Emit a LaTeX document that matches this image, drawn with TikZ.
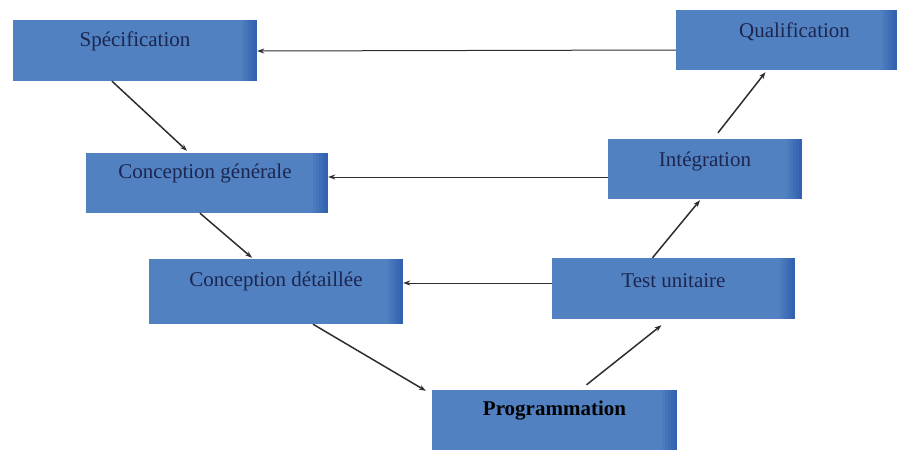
\documentclass[tikz,border=0pt]{standalone}
\usepackage{fontspec}
\setmainfont{Liberation Serif}
\usetikzlibrary{arrows.meta}
\definecolor{boxblue}{RGB}{82,129,193}
\definecolor{boxdark}{RGB}{50,98,176}
\definecolor{inkblue}{RGB}{28,38,80}
\definecolor{linegray}{RGB}{45,45,50}
\tikzset{
  stagebox/.style={rectangle, draw=none, fill=boxblue, inner sep=0pt,
    minimum height=60pt,
    % right edge darkens in small steps
    path picture={
      \foreach \k/\op in {1/0.2,2/0.4,3/0.6,4/0.8,5/1}{
        \fill[boxdark, opacity=\op]
          ([xshift={-3pt*(6-\k)}]path picture bounding box.north east)
          rectangle ([xshift={-3pt*(5-\k)}]path picture bounding box.south east);
      }}},
  stagelabel/.style={font=\fontsize{21}{24}\selectfont, text=inkblue, inner sep=0pt},
  flow/.style={draw=linegray, line width=1pt, -{Stealth[length=7pt,width=5pt]}},
  descend/.style={flow, line width=1.5pt}
}
\begin{document}
\begin{tikzpicture}[x=1pt, y=-1pt]
  \useasboundingbox (0,0) rectangle (911,455);

  % stages of the V cycle
  \node[stagebox, minimum width=244pt, minimum height=61pt] (spec) at (135,50.5) {};
  \node[stagebox, minimum width=221pt] (qual) at (786.5,40) {};
  \node[stagebox, minimum width=242pt] (cg)   at (207,183) {};
  \node[stagebox, minimum width=194pt] (int)  at (705,169) {};
  \node[stagebox, minimum width=254pt, minimum height=65pt] (cd) at (276,291.5) {};
  \node[stagebox, minimum width=243pt, minimum height=61pt] (tu) at (673.5,288.5) {};
  \node[stagebox, minimum width=245pt] (prog) at (554.5,420) {};

  % labels, set in the upper part of each box
  \node[stagelabel] (specT) at ([yshift=9pt]spec.center) {Spécification};
  \node[stagelabel] (qualT) at ([xshift=8pt,yshift=8pt]qual.center) {Qualification};
  \node[stagelabel] (cgT)   at ([xshift=-2pt,yshift=10pt]cg.center) {Conception générale};
  \node[stagelabel] (intT)  at ([yshift=8pt]int.center) {Intégration};
  \node[stagelabel] (cdT)   at ([yshift=10pt]cd.center) {Conception détaillée};
  \node[stagelabel] (tuT)   at ([yshift=8pt]tu.center) {Test unitaire};
  \node[stagelabel, text=black, font=\fontsize{21}{24}\selectfont\bfseries] (progT)
    at ([yshift=9pt]prog.center) {Programmation};

  % descending branch
  \draw[descend] ([xshift=-23pt]spec.south) -- ([xshift=-20pt,yshift=2pt]cg.north);
  \draw[descend] ([xshift=-7pt]cg.south) -- ([xshift=-24pt,yshift=1pt]cd.north);
  \draw[descend] ([xshift=37pt]cd.south) -- ([xshift=-6pt,yshift=-1pt]prog.north west);

  % ascending branch
  \draw[descend] ([xshift=32pt,yshift=5pt]prog.north) -- ([xshift=-12pt,yshift=-6pt]tu.south);
  \draw[descend] ([xshift=-21pt]tu.north) -- ([xshift=-5pt,yshift=-1pt]int.south);
  \draw[descend] ([xshift=13pt,yshift=6pt]int.north) -- ([xshift=-21pt,yshift=-2pt]qual.south);

  % feedback links between matching levels
  \draw[flow] ([yshift=-10pt]qual.west) -- ([yshift=-0.5pt]spec.east);
  \draw[flow] ([yshift=-8pt]int.west) -- ([yshift=6pt]cg.east);
  \draw[flow] ([yshift=5.5pt]tu.west) -- ([yshift=8.5pt]cd.east);
\end{tikzpicture}
\end{document}
